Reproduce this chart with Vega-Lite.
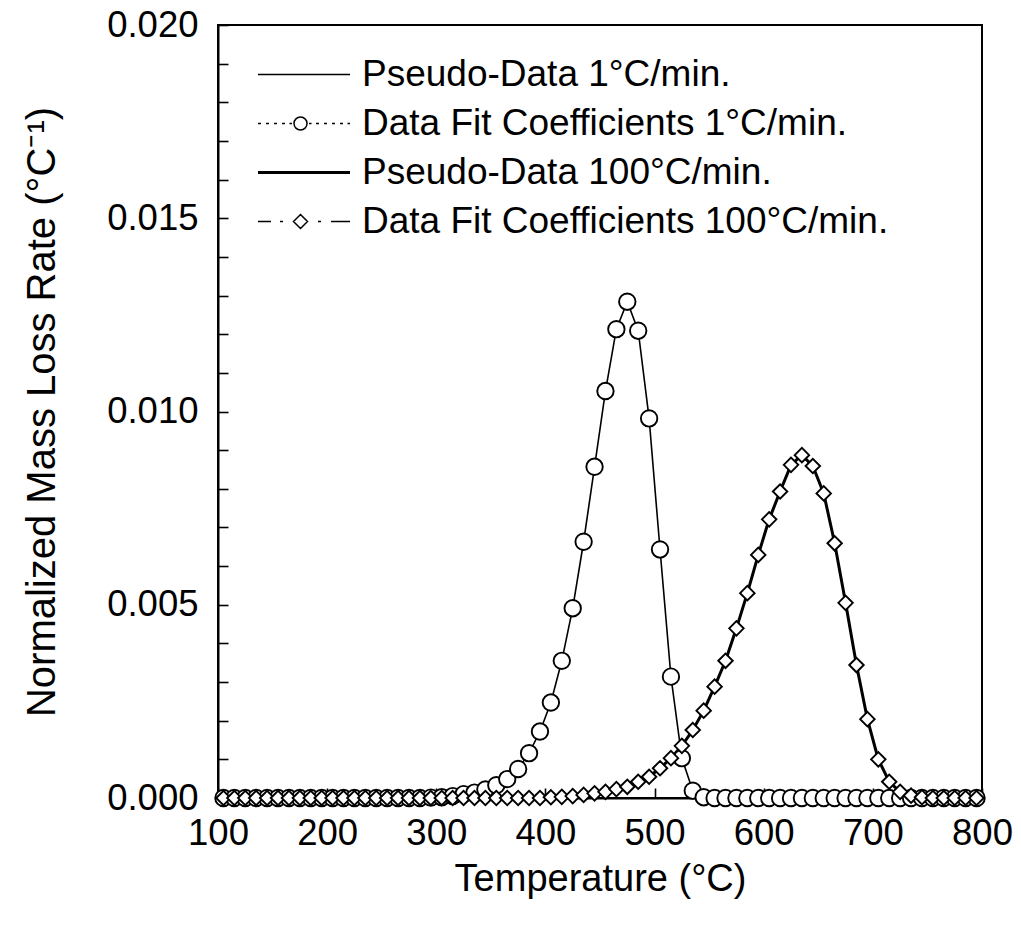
{
  "$schema": "https://vega.github.io/schema/vega-lite/v6.json",
  "width": 764,
  "height": 773,
  "autosize": {"type": "none"},
  "padding": {"left": 218, "top": 25, "right": 39, "bottom": 133},
  "background": "white",
  "config": {
    "view": {"stroke": "black", "strokeWidth": 2},
    "font": "Liberation Sans",
    "axis": {
      "grid": false,
      "domainColor": "black",
      "domainWidth": 2,
      "tickColor": "black",
      "tickWidth": 1.6,
      "tickSize": -10,
      "labelFont": "Liberation Sans",
      "labelFontSize": 36.5,
      "labelColor": "black",
      "labelFlush": false,
      "labelOverlap": false,
      "titleFont": "Liberation Sans",
      "titleFontWeight": "normal",
      "titleColor": "black"
    }
  },
  "datasets": {
    "mass_loss": [
      {"heating": "1°C/min.", "temp": 105, "rate": 0},
      {"heating": "1°C/min.", "temp": 115, "rate": 0},
      {"heating": "1°C/min.", "temp": 125, "rate": 0},
      {"heating": "1°C/min.", "temp": 135, "rate": 0},
      {"heating": "1°C/min.", "temp": 145, "rate": 0},
      {"heating": "1°C/min.", "temp": 155, "rate": 0},
      {"heating": "1°C/min.", "temp": 165, "rate": 0},
      {"heating": "1°C/min.", "temp": 175, "rate": 0},
      {"heating": "1°C/min.", "temp": 185, "rate": 0},
      {"heating": "1°C/min.", "temp": 195, "rate": 0},
      {"heating": "1°C/min.", "temp": 205, "rate": 0},
      {"heating": "1°C/min.", "temp": 215, "rate": 0},
      {"heating": "1°C/min.", "temp": 225, "rate": 0},
      {"heating": "1°C/min.", "temp": 235, "rate": 0},
      {"heating": "1°C/min.", "temp": 245, "rate": 0},
      {"heating": "1°C/min.", "temp": 255, "rate": 0},
      {"heating": "1°C/min.", "temp": 265, "rate": 0},
      {"heating": "1°C/min.", "temp": 275, "rate": 0},
      {"heating": "1°C/min.", "temp": 285, "rate": 0},
      {"heating": "1°C/min.", "temp": 295, "rate": 0.00001},
      {"heating": "1°C/min.", "temp": 305, "rate": 0.00002},
      {"heating": "1°C/min.", "temp": 315, "rate": 0.00005},
      {"heating": "1°C/min.", "temp": 325, "rate": 0.0001},
      {"heating": "1°C/min.", "temp": 335, "rate": 0.00014},
      {"heating": "1°C/min.", "temp": 345, "rate": 0.00022},
      {"heating": "1°C/min.", "temp": 355, "rate": 0.00033},
      {"heating": "1°C/min.", "temp": 365, "rate": 0.00049},
      {"heating": "1°C/min.", "temp": 375, "rate": 0.00075},
      {"heating": "1°C/min.", "temp": 385, "rate": 0.00116},
      {"heating": "1°C/min.", "temp": 395, "rate": 0.00172},
      {"heating": "1°C/min.", "temp": 405, "rate": 0.00247},
      {"heating": "1°C/min.", "temp": 415, "rate": 0.00355},
      {"heating": "1°C/min.", "temp": 425, "rate": 0.00491},
      {"heating": "1°C/min.", "temp": 435, "rate": 0.00663},
      {"heating": "1°C/min.", "temp": 445, "rate": 0.00857},
      {"heating": "1°C/min.", "temp": 455, "rate": 0.01053},
      {"heating": "1°C/min.", "temp": 465, "rate": 0.01213},
      {"heating": "1°C/min.", "temp": 475, "rate": 0.01284},
      {"heating": "1°C/min.", "temp": 485, "rate": 0.01209},
      {"heating": "1°C/min.", "temp": 495, "rate": 0.00982},
      {"heating": "1°C/min.", "temp": 505, "rate": 0.00643},
      {"heating": "1°C/min.", "temp": 515, "rate": 0.00314},
      {"heating": "1°C/min.", "temp": 525, "rate": 0.00103},
      {"heating": "1°C/min.", "temp": 535, "rate": 0.00019},
      {"heating": "1°C/min.", "temp": 545, "rate": 0.00002},
      {"heating": "1°C/min.", "temp": 555, "rate": 0},
      {"heating": "1°C/min.", "temp": 565, "rate": 0},
      {"heating": "1°C/min.", "temp": 575, "rate": 0},
      {"heating": "1°C/min.", "temp": 585, "rate": 0},
      {"heating": "1°C/min.", "temp": 595, "rate": 0},
      {"heating": "1°C/min.", "temp": 605, "rate": 0},
      {"heating": "1°C/min.", "temp": 615, "rate": 0},
      {"heating": "1°C/min.", "temp": 625, "rate": 0},
      {"heating": "1°C/min.", "temp": 635, "rate": 0},
      {"heating": "1°C/min.", "temp": 645, "rate": 0},
      {"heating": "1°C/min.", "temp": 655, "rate": 0},
      {"heating": "1°C/min.", "temp": 665, "rate": 0},
      {"heating": "1°C/min.", "temp": 675, "rate": 0},
      {"heating": "1°C/min.", "temp": 685, "rate": 0},
      {"heating": "1°C/min.", "temp": 695, "rate": 0},
      {"heating": "1°C/min.", "temp": 705, "rate": 0},
      {"heating": "1°C/min.", "temp": 715, "rate": 0},
      {"heating": "1°C/min.", "temp": 725, "rate": 0},
      {"heating": "1°C/min.", "temp": 735, "rate": 0},
      {"heating": "1°C/min.", "temp": 745, "rate": 0},
      {"heating": "1°C/min.", "temp": 755, "rate": 0},
      {"heating": "1°C/min.", "temp": 765, "rate": 0},
      {"heating": "1°C/min.", "temp": 775, "rate": 0},
      {"heating": "1°C/min.", "temp": 785, "rate": 0},
      {"heating": "1°C/min.", "temp": 795, "rate": 0},
      {"heating": "100°C/min.", "temp": 105, "rate": 0},
      {"heating": "100°C/min.", "temp": 115, "rate": 0},
      {"heating": "100°C/min.", "temp": 125, "rate": 0},
      {"heating": "100°C/min.", "temp": 135, "rate": 0},
      {"heating": "100°C/min.", "temp": 145, "rate": 0},
      {"heating": "100°C/min.", "temp": 155, "rate": 0},
      {"heating": "100°C/min.", "temp": 165, "rate": 0},
      {"heating": "100°C/min.", "temp": 175, "rate": 0},
      {"heating": "100°C/min.", "temp": 185, "rate": 0},
      {"heating": "100°C/min.", "temp": 195, "rate": 0},
      {"heating": "100°C/min.", "temp": 205, "rate": 0},
      {"heating": "100°C/min.", "temp": 215, "rate": 0},
      {"heating": "100°C/min.", "temp": 225, "rate": 0},
      {"heating": "100°C/min.", "temp": 235, "rate": 0},
      {"heating": "100°C/min.", "temp": 245, "rate": 0},
      {"heating": "100°C/min.", "temp": 255, "rate": 0},
      {"heating": "100°C/min.", "temp": 265, "rate": 0},
      {"heating": "100°C/min.", "temp": 275, "rate": 0},
      {"heating": "100°C/min.", "temp": 285, "rate": 0},
      {"heating": "100°C/min.", "temp": 295, "rate": 0},
      {"heating": "100°C/min.", "temp": 305, "rate": 0},
      {"heating": "100°C/min.", "temp": 315, "rate": 0},
      {"heating": "100°C/min.", "temp": 325, "rate": 0},
      {"heating": "100°C/min.", "temp": 335, "rate": 0},
      {"heating": "100°C/min.", "temp": 345, "rate": 0},
      {"heating": "100°C/min.", "temp": 355, "rate": 0},
      {"heating": "100°C/min.", "temp": 365, "rate": 0},
      {"heating": "100°C/min.", "temp": 375, "rate": 0},
      {"heating": "100°C/min.", "temp": 385, "rate": 0},
      {"heating": "100°C/min.", "temp": 395, "rate": 0},
      {"heating": "100°C/min.", "temp": 405, "rate": 0.00002},
      {"heating": "100°C/min.", "temp": 415, "rate": 0.00003},
      {"heating": "100°C/min.", "temp": 425, "rate": 0.00005},
      {"heating": "100°C/min.", "temp": 435, "rate": 0.00008},
      {"heating": "100°C/min.", "temp": 445, "rate": 0.00012},
      {"heating": "100°C/min.", "temp": 455, "rate": 0.00016},
      {"heating": "100°C/min.", "temp": 465, "rate": 0.00023},
      {"heating": "100°C/min.", "temp": 475, "rate": 0.00029},
      {"heating": "100°C/min.", "temp": 485, "rate": 0.00042},
      {"heating": "100°C/min.", "temp": 495, "rate": 0.00055},
      {"heating": "100°C/min.", "temp": 505, "rate": 0.00077},
      {"heating": "100°C/min.", "temp": 515, "rate": 0.00103},
      {"heating": "100°C/min.", "temp": 525, "rate": 0.00135},
      {"heating": "100°C/min.", "temp": 535, "rate": 0.00176},
      {"heating": "100°C/min.", "temp": 545, "rate": 0.00226},
      {"heating": "100°C/min.", "temp": 555, "rate": 0.00288},
      {"heating": "100°C/min.", "temp": 565, "rate": 0.00355},
      {"heating": "100°C/min.", "temp": 575, "rate": 0.00439},
      {"heating": "100°C/min.", "temp": 585, "rate": 0.0053},
      {"heating": "100°C/min.", "temp": 595, "rate": 0.00629},
      {"heating": "100°C/min.", "temp": 605, "rate": 0.00721},
      {"heating": "100°C/min.", "temp": 615, "rate": 0.00793},
      {"heating": "100°C/min.", "temp": 625, "rate": 0.00862},
      {"heating": "100°C/min.", "temp": 635, "rate": 0.00887},
      {"heating": "100°C/min.", "temp": 645, "rate": 0.00859},
      {"heating": "100°C/min.", "temp": 655, "rate": 0.00788},
      {"heating": "100°C/min.", "temp": 665, "rate": 0.00659},
      {"heating": "100°C/min.", "temp": 675, "rate": 0.00505},
      {"heating": "100°C/min.", "temp": 685, "rate": 0.00344},
      {"heating": "100°C/min.", "temp": 695, "rate": 0.00204},
      {"heating": "100°C/min.", "temp": 705, "rate": 0.001},
      {"heating": "100°C/min.", "temp": 715, "rate": 0.00042},
      {"heating": "100°C/min.", "temp": 725, "rate": 0.00016},
      {"heating": "100°C/min.", "temp": 735, "rate": 0.00006},
      {"heating": "100°C/min.", "temp": 745, "rate": 0.00002},
      {"heating": "100°C/min.", "temp": 755, "rate": 0},
      {"heating": "100°C/min.", "temp": 765, "rate": 0},
      {"heating": "100°C/min.", "temp": 775, "rate": 0},
      {"heating": "100°C/min.", "temp": 785, "rate": 0},
      {"heating": "100°C/min.", "temp": 795, "rate": 0}
    ]
  },
  "data": {"name": "mass_loss"},
  "encoding": {
    "x": {
      "field": "temp",
      "type": "quantitative",
      "scale": {"domain": [100, 800], "nice": false, "zero": false},
      "axis": {
        "title": "Temperature (°C)",
        "titleFontSize": 38,
        "values": [100, 200, 300, 400, 500, 600, 700, 800],
        "format": "d",
        "labelPadding": 27,
        "titlePadding": 9
      }
    },
    "y": {
      "field": "rate",
      "type": "quantitative",
      "scale": {"domain": [0, 0.02], "nice": false, "zero": false},
      "axis": {
        "title": "Normalized Mass Loss Rate (°C⁻¹)",
        "titleFontSize": 40,
        "values": [0, 0.001, 0.002, 0.003, 0.004, 0.005, 0.006, 0.007, 0.008, 0.009, 0.01, 0.011, 0.012, 0.013, 0.014, 0.015, 0.016, 0.017, 0.018, 0.019, 0.02],
        "labelExpr": "round(datum.value * 1000) % 5 === 0 ? format(datum.value, '.3f') : ''",
        "labelPadding": 30,
        "titlePadding": 44
      }
    }
  },
  "layer": [
    {
      "transform": [{"filter": {"field": "heating", "equal": "1°C/min."}}],
      "mark": {"type": "line", "color": "black", "strokeWidth": 1.6},
      "encoding": {}
    },
    {
      "transform": [{"filter": {"field": "heating", "equal": "100°C/min."}}],
      "mark": {"type": "line", "color": "black", "strokeWidth": 3},
      "encoding": {}
    },
    {
      "transform": [{"filter": {"field": "heating", "equal": "1°C/min."}}],
      "mark": {"type": "point", "shape": "circle", "size": 270, "filled": true, "fill": "white", "stroke": "black", "strokeWidth": 1.9, "opacity": 1}
    },
    {
      "transform": [{"filter": {"field": "heating", "equal": "100°C/min."}}],
      "mark": {"type": "point", "shape": "diamond", "size": 210, "filled": true, "fill": "white", "stroke": "black", "strokeWidth": 1.9, "opacity": 1}
    },
    {
      "description": "Legend key: draws nothing itself (no negative rates); its shape scale holds the four legend glyphs",
      "transform": [{"filter": {"field": "rate", "lt": 0}}],
      "mark": {"type": "point", "filled": false, "color": "black", "strokeWidth": 1.5, "size": 400, "opacity": 1},
      "encoding": {
        "shape": {
          "field": "heating",
          "type": "nominal",
          "scale": {
            "domain": ["Pseudo-Data 1°C/min.", "1°C/min.", "Pseudo-Data 100°C/min.", "100°C/min."],
            "range": [
              "M-1.85,0H7.35",
              "M-1.85,0H-1.55M-1.05,0H-0.75M-0.25,0H0.05M0.55,0H0.85M1.3,0H1.55M3.25,0H3.5M3.95,0H4.25M4.75,0H5.05M5.55,0H5.85M6.35,0H6.65M7.1,0H7.35M1.75,0A0.65,0.65 0 1,0 3.05,0A0.65,0.65 0 1,0 1.75,0Z",
              "M-1.85,-0.08H7.35M-1.85,0.08H7.35",
              "M-1.85,0H-0.55M0.35,0H0.65M4.15,0H4.45M5.45,0H7.35M1.7,0L2.4,-0.7L3.1,0L2.4,0.7Z"
            ]
          },
          "legend": {
            "title": null,
            "orient": "none",
            "legendX": 40,
            "legendY": 31,
            "padding": 0,
            "symbolSize": 400,
            "labelOffset": 67,
            "labelFont": "Liberation Sans",
            "labelFontSize": 37,
            "labelColor": "black",
            "labelLimit": 0,
            "rowPadding": 11,
            "labelExpr": "indexof(datum.label, 'Pseudo') === 0 ? datum.label : 'Data Fit Coefficients ' + datum.label"
          }
        }
      }
    }
  ]
}
